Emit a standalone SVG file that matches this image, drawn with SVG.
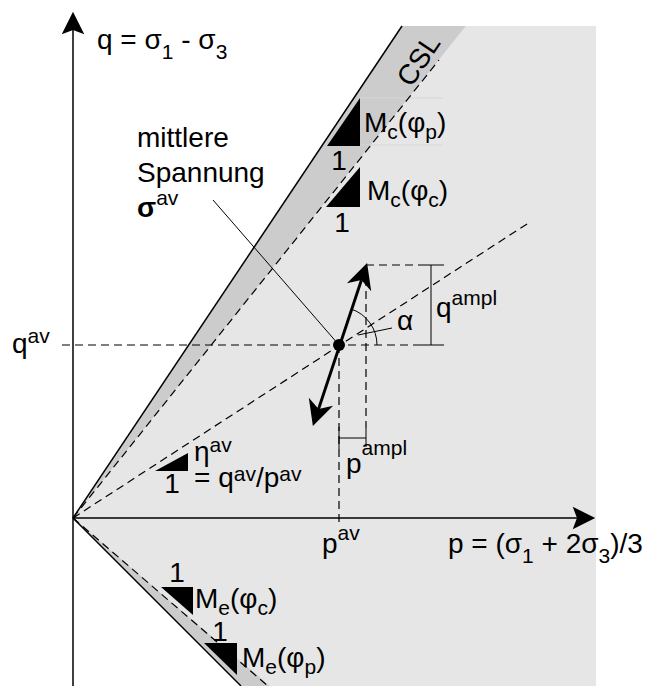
<svg xmlns="http://www.w3.org/2000/svg" width="655" height="686" viewBox="0 0 655 686">
<style>
text{font-family:"Liberation Sans",Arial,Helvetica,sans-serif;font-size:28px;fill:#000}
.s{font-size:21px}
.ln{stroke:#000;stroke-width:1.5;fill:none}
.th{stroke:#000;stroke-width:1;fill:none}
.da{stroke:#000;stroke-width:1.2;fill:none;stroke-dasharray:8 5}
.tri{fill:#000;stroke:none}
</style>
<defs>
<marker id="ah" markerUnits="userSpaceOnUse" markerWidth="32" markerHeight="32" viewBox="-2 -15 30 30" refX="7" refY="0" orient="auto-start-reverse">
<path d="M24,0 L0,-12 L7,0 L0,12 Z" fill="#000"/>
</marker>
<marker id="ax" markerUnits="userSpaceOnUse" markerWidth="30" markerHeight="30" viewBox="-2 -14 28 28" refX="4" refY="0" orient="auto">
<path d="M21,0 L0,-10.5 L4,0 L0,10.5 Z" fill="#000"/>
</marker>
</defs>
<g id="regions">
<polygon points="73,518 466,26 596,26 596,686 270,686" fill="#e6e6e6"/>
<polygon points="73,518 402,26 466,26" fill="#cccccc"/>
<polygon points="73,518 241,686 270,686" fill="#cccccc"/>
<line x1="360" y1="98" x2="443" y2="98" stroke="#d6d6d6" stroke-width="1"/>
<line x1="360" y1="145" x2="443" y2="145" stroke="#d6d6d6" stroke-width="1"/>
</g>
<g id="connectors">
<line class="ln" x1="73" y1="518" x2="402" y2="26"/>
<line class="ln" x1="73" y1="518" x2="241" y2="686"/>
<line class="da" x1="73" y1="518" x2="439" y2="60"/>
<line class="da" x1="73" y1="518" x2="268" y2="686"/>
<line class="da" x1="73" y1="518" x2="530" y2="222"/>
<line class="da" x1="62" y1="345" x2="418" y2="345"/>
<line class="da" x1="366" y1="265" x2="418" y2="265"/>
<line class="da" x1="339" y1="345" x2="339" y2="526"/>
<line class="da" x1="366" y1="265" x2="366" y2="428"/>
<line class="th" x1="418" y1="265" x2="444" y2="265"/>
<line class="th" x1="418" y1="345" x2="444" y2="345"/>
<line class="th" x1="431" y1="265" x2="431" y2="345"/>
<line class="th" x1="339" y1="438" x2="366" y2="438"/>
<line class="th" x1="339" y1="427" x2="339" y2="449"/>
<line class="th" x1="366" y1="428" x2="366" y2="447"/>
<path class="th" d="M351.4,309.1 A38,38 0 0 1 377,345"/>
<line class="th" x1="358" y1="335" x2="392" y2="328"/>
<line class="th" x1="213" y1="200" x2="339" y2="345"/>
<line class="ln" x1="73" y1="686" x2="73" y2="30" marker-end="url(#ax)"/>
<line class="ln" x1="73" y1="518" x2="577" y2="518" marker-end="url(#ax)"/>
<line x1="318.6" y1="408.9" x2="361.4" y2="280.1" stroke="#000" stroke-width="3" marker-start="url(#ah)" marker-end="url(#ah)"/>
</g>
<g id="mean-stress">
<circle cx="339" cy="345" r="6" fill="#000"/>
</g>
<g id="axis-q"><text x="97" y="49">q = σ<tspan class="s" dy="10">1</tspan><tspan dy="-10"> - σ</tspan><tspan class="s" dy="10">3</tspan></text></g>
<g id="axis-p"><text x="448" y="553">p = (σ<tspan class="s" dy="10">1</tspan><tspan dy="-10"> + 2σ</tspan><tspan class="s" dy="10">3</tspan><tspan dy="-10">)/3</tspan></text></g>
<g id="label-mittlere">
<text x="137" y="147">mittlere</text>
<text x="137" y="182">Spannung</text>
<text x="137" y="217"><tspan font-weight="bold">σ</tspan><tspan class="s" dy="-12">av</tspan></text>
</g>
<g id="csl"><text transform="translate(418,60) rotate(-56.2)" x="0" y="10" text-anchor="middle">CSL</text></g>
<g id="mc-p">
<polygon class="tri" points="327,146 360,98 360,146"/>
<text x="339" y="170" text-anchor="middle">1</text>
<text x="364" y="132">M<tspan class="s" dy="7">c</tspan><tspan dy="-7">(φ</tspan><tspan class="s" dy="7">p</tspan><tspan dy="-7">)</tspan></text>
</g>
<g id="mc-c">
<polygon class="tri" points="326,207 360,167 360,207"/>
<text x="342" y="232" text-anchor="middle">1</text>
<text x="367" y="200">M<tspan class="s" dy="7">c</tspan><tspan dy="-7">(φ</tspan><tspan class="s" dy="7">c</tspan><tspan dy="-7">)</tspan></text>
</g>
<g id="qav"><text x="12" y="353">q<tspan class="s" dy="-10">av</tspan></text></g>
<g id="qampl"><text x="436" y="317">q<tspan class="s" dy="-12">ampl</tspan></text></g>
<g id="alpha"><text x="397" y="330">α</text></g>
<g id="pampl"><text x="346" y="473">p<tspan class="s" dy="-18">ampl</tspan></text></g>
<g id="pav"><text x="322" y="553">p<tspan class="s" dy="-13">av</tspan></text></g>
<g id="eta">
<polygon class="tri" points="155,471 188,453 188,471"/>
<text x="194" y="461">η<tspan class="s" dy="-9">av</tspan></text>
<text x="172" y="493" text-anchor="middle">1</text>
<text x="194" y="487">= q<tspan class="s" dy="-6">av</tspan><tspan dy="6">/p</tspan><tspan class="s" dy="-6">av</tspan></text>
</g>
<g id="me-c">
<polygon class="tri" points="161,587 193,587 193,615"/>
<text x="177" y="582" text-anchor="middle">1</text>
<text x="195" y="608">M<tspan class="s" dy="7">e</tspan><tspan dy="-7">(φ</tspan><tspan class="s" dy="7">c</tspan><tspan dy="-7">)</tspan></text>
</g>
<g id="me-p">
<polygon class="tri" points="204,643 237,643 237,675"/>
<text x="220" y="641" text-anchor="middle">1</text>
<text x="242" y="667">M<tspan class="s" dy="7">e</tspan><tspan dy="-7">(φ</tspan><tspan class="s" dy="7">p</tspan><tspan dy="-7">)</tspan></text>
</g>
</svg>
